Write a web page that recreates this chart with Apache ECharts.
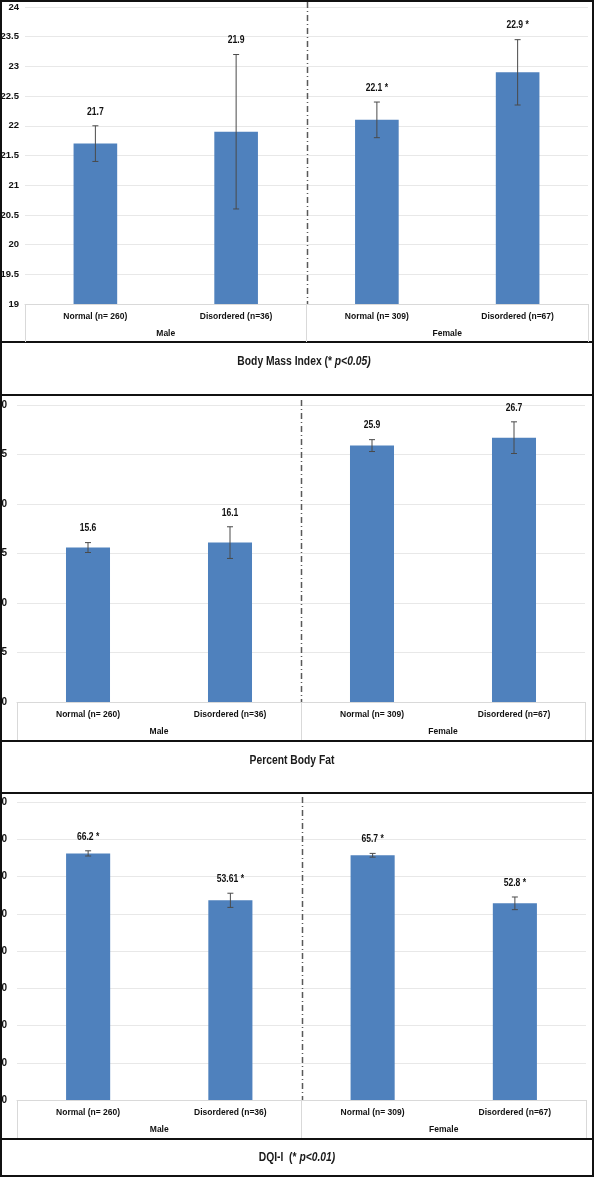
<!DOCTYPE html>
<html><head><meta charset="utf-8">
<script src="https://cdn.jsdelivr.net/npm/echarts@6/dist/echarts.min.js"></script>
<style>html,body{margin:0;padding:0;background:#fff}#c{width:594px;height:1178px}</style>
</head><body><div id="c"></div>
<script>
// ---- data ----
const categories = ['Normal (n= 260)', 'Disordered (n=36)', 'Normal (n= 309)', 'Disordered (n=67)'];
const groups = ['Male', 'Female'];

const bmiValues = [21.7, 21.9, 22.1, 22.9];
const bmiErrors = [0.3, 1.3, 0.3, 0.55];
const bmiLabels = ['21.7', '21.9', '22.1 *', '22.9 *'];
const bmiAxis = [19, 24, 0.5]; // min, max, interval

const fatValues = [15.6, 16.1, 25.9, 26.7];
const fatErrors = [0.5, 1.6, 0.6, 1.6];
const fatLabels = ['15.6', '16.1', '25.9', '26.7'];
const fatAxis = [0, 30, 5];

const dqiValues = [66.2, 53.61, 65.7, 52.8];
const dqiErrors = [0.7, 1.9, 0.5, 1.7];
const dqiLabels = ['66.2 *', '53.61 *', '65.7 *', '52.8 *'];
const dqiAxis = [0, 80, 10];

const titleTexts = ['Body Mass Index (* {i|p<0.05)}', 'Percent Body Fat', 'DQI-I  (* {i|p<0.01)}'];

// ---- layout / style ----
const FONT = '"Liberation Sans", Arial, sans-serif';
const BAR = '#4f81bd';
const SQ = 0.86; // horizontal squeeze to mimic the narrow face
const panels = [
  {vals: bmiValues, errs: bmiErrors, labs: bmiLabels, ax: bmiAxis, grid: {left: 25, right: 6, top: 7, height: 297}, title: [304, 362], yMargin: 6, ySize: 9.5},
  {vals: fatValues, errs: fatErrors, labs: fatLabels, ax: fatAxis, grid: {left: 17, right: 9, top: 405, height: 297}, title: [292, 761], yMargin: 10, ySize: 10},
  {vals: dqiValues, errs: dqiErrors, labs: dqiLabels, ax: dqiAxis, grid: {left: 17, right: 8, top: 802, height: 298}, title: [297, 1158], yMargin: 10, ySize: 10}
];

const option = {
  animation: false,
  backgroundColor: '#fff',
  grid: [], xAxis: [], yAxis: [], series: [], graphic: []
};

panels.forEach((p, i) => {
  option.grid.push(Object.assign({containLabel: false, outerBoundsMode: 'none'}, p.grid));
  option.xAxis.push({
    type: 'category', gridIndex: i, data: categories, position: 'bottom',
    axisLine: {show: true, lineStyle: {color: '#d9d9d9', width: 1}},
    axisTick: {show: false},
    axisLabel: {interval: 0, margin: 8, color: '#111', fontFamily: FONT, fontWeight: 'bold', fontSize: 8.5}
  });
  option.xAxis.push({
    type: 'category', gridIndex: i, data: groups, position: 'bottom', offset: 0,
    axisLine: {show: false},
    axisTick: {show: true, length: 38, interval: 0, lineStyle: {color: '#d9d9d9', width: 1}},
    axisLabel: {interval: 0, margin: 25, color: '#111', fontFamily: FONT, fontWeight: 'bold', fontSize: 8.5}
  });
  option.yAxis.push({
    type: 'value', gridIndex: i, min: p.ax[0], max: p.ax[1], interval: p.ax[2],
    axisLine: {show: false}, axisTick: {show: false},
    splitLine: {lineStyle: {color: '#e8e8e8', width: 1}},
    axisLabel: {margin: p.yMargin, color: '#111', fontFamily: FONT, fontWeight: 'bold', fontSize: p.ySize}
  });
  option.series.push({
    type: 'bar', xAxisIndex: 2 * i, yAxisIndex: i, data: p.vals,
    barWidth: '31%', itemStyle: {color: BAR}, silent: true
  });
  option.series.push({
    type: 'custom', xAxisIndex: 2 * i, yAxisIndex: i, z: 5,
    data: p.vals.map((v, k) => [k, v, p.errs[k]]),
    renderItem: (params, api) => {
      const x = api.value(0), v = api.value(1), e = api.value(2);
      const t = api.coord([x, v + e]), b = api.coord([x, v - e]);
      const cap = 3, st = {stroke: '#4a4a4a', lineWidth: 1};
      return {type: 'group', children: [
        {type: 'line', shape: {x1: t[0], y1: t[1], x2: b[0], y2: b[1]}, style: st},
        {type: 'line', shape: {x1: t[0] - cap, y1: t[1], x2: t[0] + cap, y2: t[1]}, style: st},
        {type: 'line', shape: {x1: b[0] - cap, y1: b[1], x2: b[0] + cap, y2: b[1]}, style: st},
        {type: 'text', x: t[0], y: t[1] - 14, scaleX: SQ,
          style: {text: p.labs[params.dataIndex], align: 'center', verticalAlign: 'middle', fill: '#111', font: 'bold 10px ' + FONT}}
      ]};
    }
  });
  option.series.push({
    type: 'custom', xAxisIndex: 2 * i, yAxisIndex: i, z: 6,
    data: [[0, p.ax[0]]],
    renderItem: (params, api) => {
      const a = api.coord([1, p.ax[0]]), b = api.coord([2, p.ax[0]]);
      const cs = params.coordSys;
      const x = Math.round((a[0] + b[0]) / 2) + 0.5;
      return {type: 'line', shape: {x1: x, y1: cs.y - 5, x2: x, y2: cs.y + cs.height},
        style: {stroke: '#595959', lineWidth: 1.5, lineDash: [6, 3, 1, 3]}};
    }
  });
  option.graphic.push({
    type: 'text', x: p.title[0], y: p.title[1], scaleX: SQ, silent: true,
    style: {text: titleTexts[i], align: 'center', verticalAlign: 'middle', fill: '#1a1a1a',
      font: 'bold 12px ' + FONT,
      rich: {i: {fontFamily: FONT, fontSize: 12, fontWeight: 'bold', fontStyle: 'italic', fill: '#1a1a1a'}}}
  });
});

// panel frame lines
const hLines = [342, 395, 741, 793, 1139];
hLines.forEach(y => option.graphic.push({type: 'rect', shape: {x: 0, y: y - 1, width: 594, height: 2}, style: {fill: '#111'}, silent: true}));
option.graphic.push({type: 'rect', shape: {x: 1, y: 1, width: 592, height: 1175}, style: {fill: 'none', stroke: '#111', lineWidth: 2}, silent: true});

const chart = echarts.init(document.getElementById('c'), null, {renderer: 'canvas'});
chart.setOption(option);
</script>
</body></html>
